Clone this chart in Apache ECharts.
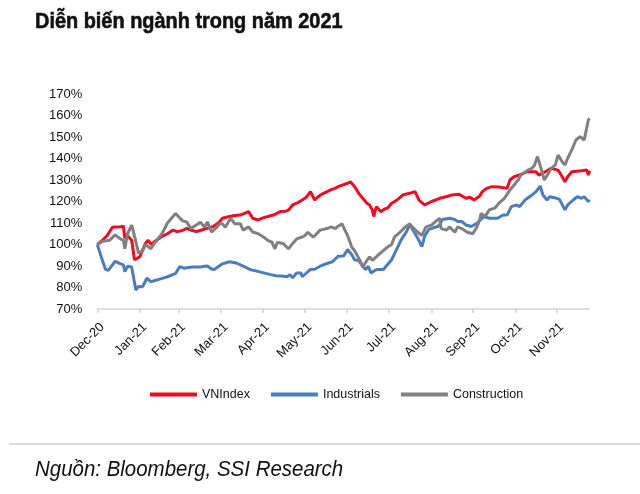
<!DOCTYPE html>
<html>
<head>
<meta charset="utf-8">
<script src="https://cdn.jsdelivr.net/npm/echarts@6/dist/echarts.min.js"></script>
<style>
html,body{margin:0;padding:0;background:#fff;}
#c{width:640px;height:494px;}
</style>
</head>
<body>
<div id="c"></div>
<script>
const titleText = 'Diễn biến ngành trong năm 2021';
const sourceText = 'Nguồn: Bloomberg, SSI Research';
const seriesNames = ['VNIndex', 'Industrials', 'Construction'];
const tickDates = ['2020-12-31','2021-01-31','2021-02-28','2021-03-31','2021-04-30','2021-05-31','2021-06-30','2021-07-31','2021-08-31','2021-09-30','2021-10-31','2021-11-30'];
const monthNames = ['Jan','Feb','Mar','Apr','May','Jun','Jul','Aug','Sep','Oct','Nov','Dec'];
const yTicks = [70, 170, 10];

const vnDates = ['2020-12-31','2021-01-03','2021-01-07','2021-01-11','2021-01-17','2021-01-19','2021-01-20','2021-01-22','2021-01-25','2021-01-27','2021-01-29','2021-01-31','2021-02-04','2021-02-06','2021-02-08','2021-02-11','2021-02-15','2021-02-20','2021-02-24','2021-02-27','2021-03-03','2021-03-06','2021-03-10','2021-03-13','2021-03-18','2021-03-21','2021-03-25','2021-03-29','2021-04-01','2021-04-06','2021-04-10','2021-04-14','2021-04-17','2021-04-20','2021-04-23','2021-04-27','2021-05-01','2021-05-04','2021-05-08','2021-05-13','2021-05-17','2021-05-19','2021-05-22','2021-05-25','2021-05-29','2021-06-01','2021-06-04','2021-06-07','2021-06-11','2021-06-16','2021-06-19','2021-06-22','2021-06-24','2021-06-28','2021-07-01','2021-07-03','2021-07-05','2021-07-07','2021-07-09','2021-07-12','2021-07-15','2021-07-17','2021-07-19','2021-07-20','2021-07-21','2021-07-22','2021-07-25','2021-07-28','2021-07-30','2021-08-02','2021-08-06','2021-08-10','2021-08-15','2021-08-19','2021-08-20','2021-08-22','2021-08-24','2021-08-26','2021-08-31','2021-09-06','2021-09-11','2021-09-15','2021-09-20','2021-09-25','2021-09-28','2021-10-01','2021-10-05','2021-10-07','2021-10-10','2021-10-14','2021-10-19','2021-10-25','2021-10-27','2021-10-30','2021-11-03','2021-11-08','2021-11-15','2021-11-17','2021-11-23','2021-11-26','2021-12-01','2021-12-04','2021-12-06','2021-12-08','2021-12-11','2021-12-18','2021-12-22','2021-12-23','2021-12-24'];
const vnValues = [100,101.5,104,108,108.3,108.5,103,104,102,93,93.5,94.5,100.5,102,100,101.5,103.4,105,106.7,106,106.5,107.5,106.5,106,107,107.5,108.3,110,112.2,113,113.5,113.7,114.5,115.3,112.2,111.4,112.5,113,113.7,115.3,115.5,116,118.4,119.2,120.7,122,124.6,120.7,123,124.6,125.5,126.1,126.9,127.8,128.5,129.2,127.7,126,123.8,121.5,119.2,118.4,116,113,115.5,117.6,115.3,116.5,116.9,119.2,120.7,123,123.8,124.6,125.3,120.5,119.5,118.4,120,121.5,122.3,123,123.4,121.5,122,120.7,122.5,124.6,126.1,126.9,126.7,126.1,130,131.5,132.3,133.8,133.8,132.3,134.3,135.4,134.6,131.5,129.2,131.5,133.8,134.3,134.6,132.3,134.3];

const indDates = ['2020-12-31','2021-01-03','2021-01-06','2021-01-08','2021-01-13','2021-01-17','2021-01-19','2021-01-20','2021-01-22','2021-01-25','2021-01-28','2021-01-30','2021-02-02','2021-02-05','2021-02-08','2021-02-15','2021-02-20','2021-02-26','2021-03-01','2021-03-04','2021-03-10','2021-03-16','2021-03-19','2021-03-21','2021-03-24','2021-03-26','2021-04-01','2021-04-06','2021-04-11','2021-04-14','2021-04-16','2021-04-21','2021-04-26','2021-05-01','2021-05-06','2021-05-10','2021-05-14','2021-05-18','2021-05-20','2021-05-22','2021-05-25','2021-05-28','2021-05-29','2021-06-04','2021-06-07','2021-06-11','2021-06-17','2021-06-20','2021-06-24','2021-06-28','2021-07-01','2021-07-04','2021-07-06','2021-07-09','2021-07-11','2021-07-14','2021-07-16','2021-07-18','2021-07-22','2021-07-27','2021-07-29','2021-08-02','2021-08-05','2021-08-09','2021-08-13','2021-08-15','2021-08-18','2021-08-21','2021-08-24','2021-08-26','2021-08-29','2021-09-01','2021-09-05','2021-09-08','2021-09-13','2021-09-17','2021-09-19','2021-09-22','2021-09-25','2021-09-29','2021-10-03','2021-10-08','2021-10-12','2021-10-18','2021-10-22','2021-10-25','2021-10-28','2021-11-01','2021-11-03','2021-11-07','2021-11-12','2021-11-15','2021-11-18','2021-11-20','2021-11-23','2021-11-25','2021-11-30','2021-12-02','2021-12-06','2021-12-08','2021-12-12','2021-12-15','2021-12-18','2021-12-20','2021-12-23','2021-12-24'];
const indValues = [100,94,88.4,88,92.2,91,90.5,87.4,89.9,89.5,78.8,80.5,80.4,84.3,82.7,84,85,86.6,89.7,89,89.5,89.5,89.9,90,88.6,88.4,91,92,91.4,90.5,89.9,88.4,87.6,86.8,86,85.5,85.3,85,86,84.5,86.8,86.8,85,88.4,88.5,89.9,91.4,92,94.5,94.6,97.7,95.3,92.9,92.5,90.7,88.4,89.9,86.8,88.4,88.4,89.9,92.9,96.9,102.3,106.2,109.3,106.2,102.9,99,103.9,107,107.7,108.5,111.6,112.2,111.6,110.7,110.7,109.1,108.4,109.9,113,112.2,112.2,113.7,113.7,117.6,118.4,117.6,120.7,123,124.6,127.2,123,120.7,122.2,121.5,121,116.1,118.4,120.7,122.2,121.5,122.2,120,120.7];

const conDates = ['2020-12-31','2021-01-04','2021-01-09','2021-01-13','2021-01-17','2021-01-19','2021-01-20','2021-01-22','2021-01-25','2021-01-27','2021-01-30','2021-02-02','2021-02-04','2021-02-08','2021-02-11','2021-02-16','2021-02-20','2021-02-24','2021-02-26','2021-02-28','2021-03-03','2021-03-06','2021-03-09','2021-03-16','2021-03-19','2021-03-21','2021-03-24','2021-03-27','2021-03-30','2021-04-01','2021-04-03','2021-04-07','2021-04-10','2021-04-14','2021-04-16','2021-04-20','2021-04-23','2021-04-27','2021-05-01','2021-05-04','2021-05-07','2021-05-09','2021-05-11','2021-05-15','2021-05-19','2021-05-22','2021-05-25','2021-05-29','2021-05-31','2021-06-02','2021-06-06','2021-06-11','2021-06-16','2021-06-19','2021-06-22','2021-06-24','2021-06-27','2021-06-29','2021-07-01','2021-07-04','2021-07-06','2021-07-10','2021-07-12','2021-07-15','2021-07-17','2021-07-19','2021-07-23','2021-07-27','2021-07-30','2021-08-02','2021-08-04','2021-08-08','2021-08-12','2021-08-15','2021-08-17','2021-08-21','2021-08-24','2021-08-27','2021-08-31','2021-09-03','2021-09-06','2021-09-07','2021-09-11','2021-09-13','2021-09-17','2021-09-19','2021-09-23','2021-09-26','2021-09-30','2021-10-03','2021-10-05','2021-10-06','2021-10-09','2021-10-12','2021-10-16','2021-10-19','2021-10-23','2021-10-27','2021-10-30','2021-11-02','2021-11-04','2021-11-09','2021-11-12','2021-11-14','2021-11-16','2021-11-19','2021-11-21','2021-11-24','2021-11-26','2021-11-29','2021-12-01','2021-12-04','2021-12-06','2021-12-08','2021-12-11','2021-12-14','2021-12-17','2021-12-20','2021-12-21','2021-12-23','2021-12-24'];
const conValues = [100,101.5,102,104.5,102.5,102,98,105,109,104,96,97,100,98,101,105,110,113,114.4,113,111,110.5,107.4,110.4,108,110.5,105.8,107.5,109.6,109.6,108,112.2,109.6,109.6,106.7,108.2,105.8,105,103.4,101.9,101.1,98,101,100.5,98,100.5,102.6,103.5,104.2,105.7,103.4,106.7,107.4,108.2,107.4,108.5,109.6,106.7,104.2,98.8,97.2,92.6,89.5,92.6,94.2,92.6,95,97.2,98.8,100,103.4,105.7,108.2,109.6,108.2,105.7,104.2,108.2,109,110.7,112.2,107.4,106.7,108.2,105.7,108.2,107,105.7,105,108.2,111.4,114.5,113,116.1,116.9,119.2,121.5,125.3,127.7,130,132.3,134.6,135.4,137,140.9,134.6,130,133.1,135.4,137,141.6,138.5,137,140.1,144,148.6,150.2,148.6,151.7,157.9,158.6];

const colors = ['#f20a1e', '#4a7dc0', '#808080'];
const sans = "'Liberation Sans', Arial, sans-serif";

function ts(s) { const p = s.split('-').map(Number); return Date.UTC(p[0], p[1] - 1, p[2]); }
function zip(d, v) { return d.map((x, i) => [ts(x), v[i]]); }

const chart = echarts.init(document.getElementById('c'), null, {renderer: 'canvas'});
const lineSeries = [[vnDates, vnValues], [indDates, indValues], [conDates, conValues]].map((pair, i) => ({
  name: seriesNames[i],
  type: 'line',
  data: zip(pair[0], pair[1]),
  showSymbol: false,
  symbol: 'none',
  smooth: false,
  lineStyle: {width: 3, color: colors[i]},
  itemStyle: {color: colors[i]},
  z: i === 0 ? 3 : (i === 1 ? 2 : 4)
}));
const tickValues = tickDates.map(ts);

chart.setOption({
  animation: false,
  backgroundColor: '#fff',
  legend: {
    data: seriesNames,
    left: 150, top: 388, padding: 0,
    icon: 'rect',
    itemWidth: 47, itemHeight: 4,
    itemGap: 21,
    textStyle: {fontFamily: sans, fontSize: 12.5, color: '#111'}
  },
  grid: {left: 97.3, right: 50.3, top: 94, bottom: 185},
  xAxis: {
    type: 'value',
    min: ts('2020-12-31'),
    max: ts('2021-12-24'),
    axisLine: {show: true, lineStyle: {color: '#d4d4d4', width: 1.5}},
    axisTick: {show: true, length: 4, customValues: tickValues, lineStyle: {color: '#d4d4d4', width: 1.5}},
    splitLine: {show: false},
    axisLabel: {
      customValues: tickValues,
      rotate: 45,
      margin: 21,
      padding: [0, -7, 0, 0],
      fontFamily: sans, fontSize: 13, color: '#111',
      formatter: function (v) { const d = new Date(v); return monthNames[d.getUTCMonth()] + '-' + String(d.getUTCFullYear()).slice(2); }
    }
  },
  yAxis: {
    type: 'value',
    min: yTicks[0], max: yTicks[1], interval: yTicks[2],
    axisLine: {show: false},
    axisTick: {show: false},
    splitLine: {show: false},
    axisLabel: {margin: 15, fontFamily: sans, fontSize: 13, color: '#111', formatter: '{value}%'}
  },
  graphic: [
    {type: 'text', x: 35, y: 11, scaleX: 0.905, style: {text: titleText, fontFamily: sans, fontWeight: 'bold', fontSize: 22, fill: '#111', verticalAlign: 'top', stroke: '#111', lineWidth: 0.6}},
    {type: 'rect', left: 9, top: 443, shape: {width: 631, height: 2}, style: {fill: '#dddddd'}},
    {type: 'text', x: 35, y: 459, scaleX: 0.93, style: {text: sourceText, fontFamily: sans, fontStyle: 'italic', fontSize: 22, fill: '#111', verticalAlign: 'top'}}
  ],
  series: lineSeries
});
</script>
</body>
</html>
